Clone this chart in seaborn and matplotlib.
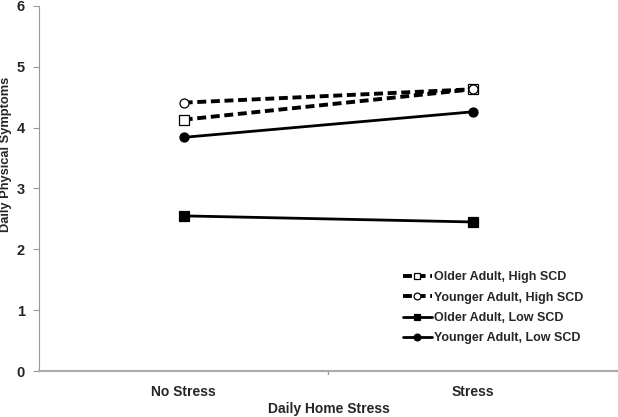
import matplotlib
matplotlib.use("Agg")
import matplotlib.pyplot as plt
import seaborn as sns
import pandas as pd

conditions = ["No Stress", "Stress"]
older_high = [4.13, 4.63]
younger_high = [4.41, 4.63]
older_low = [2.55, 2.45]
younger_low = [3.84, 4.26]

series_names = ["Older Adult, High SCD", "Younger Adult, High SCD",
                "Older Adult, Low SCD", "Younger Adult, Low SCD"]

sns.set_style("white")
plt.rcParams['font.family'] = ['Liberation Sans', 'DejaVu Sans']
plt.rcParams['font.weight'] = 'bold'

fig = plt.figure(figsize=(6.18, 4.17), dpi=100)
ax = fig.add_axes([0.063, 0.110, 0.937, 0.876])

styles = [
    (older_high, "s", "white", (0, (2.3, 1.2)), 2.8),
    (younger_high, "o", "white", (0, (2.3, 1.2)), 2.8),
    (older_low, "s", "black", "-", 2.0),
    (younger_low, "o", "black", "-", 2.0),
]
for name, (vals, mk, fc, ls, lw) in zip(series_names, styles):
    df = pd.DataFrame({"cond": conditions, "val": vals})
    sns.lineplot(data=df, x="cond", y="val", ax=ax, color="black",
                 marker=mk, markersize=6.5, markerfacecolor=fc,
                 markeredgecolor="black", markeredgewidth=0.9,
                 linestyle=ls, linewidth=lw, label=name)

ax.set_xlim(-0.5, 1.5)
ax.set_ylim(0, 6)
ax.set_yticks(range(0, 7))
ax.set_xticks([0, 1])
ax.set_xticklabels(conditions, fontsize=10, fontweight="bold")
ax.set_yticklabels([str(i) for i in range(7)], fontsize=10.5, fontweight="bold")
ax.tick_params(axis="x", length=0, pad=10)
ax.tick_params(axis="y", length=4, color="#999999", direction="out", left=True, pad=6)
# separator tick between categories
ax.plot([0.5, 0.5], [0, -0.05], color="#999999", lw=1, clip_on=False)

for side in ["top", "right"]:
    ax.spines[side].set_visible(False)
ax.spines["left"].set_color("#999999")
ax.spines["bottom"].set_color("#aaaaaa")
ax.spines["bottom"].set_linewidth(1.5)

ax.set_xlabel("Daily Home Stress", fontsize=10, fontweight="bold", labelpad=2)
ax.set_ylabel("Daily Physical Symptoms", fontsize=9.3, fontweight="bold")
ax.yaxis.set_label_coords(-0.046, 0.594)

leg = ax.legend(loc="lower left", bbox_to_anchor=(0.62, 0.06), frameon=False,
                prop={"size": 9, "weight": "bold"}, handlelength=2.3,
                handletextpad=0.15, labelspacing=0.66, borderaxespad=0,
                markerscale=0.75)

fig.savefig("out.png", dpi=100)
